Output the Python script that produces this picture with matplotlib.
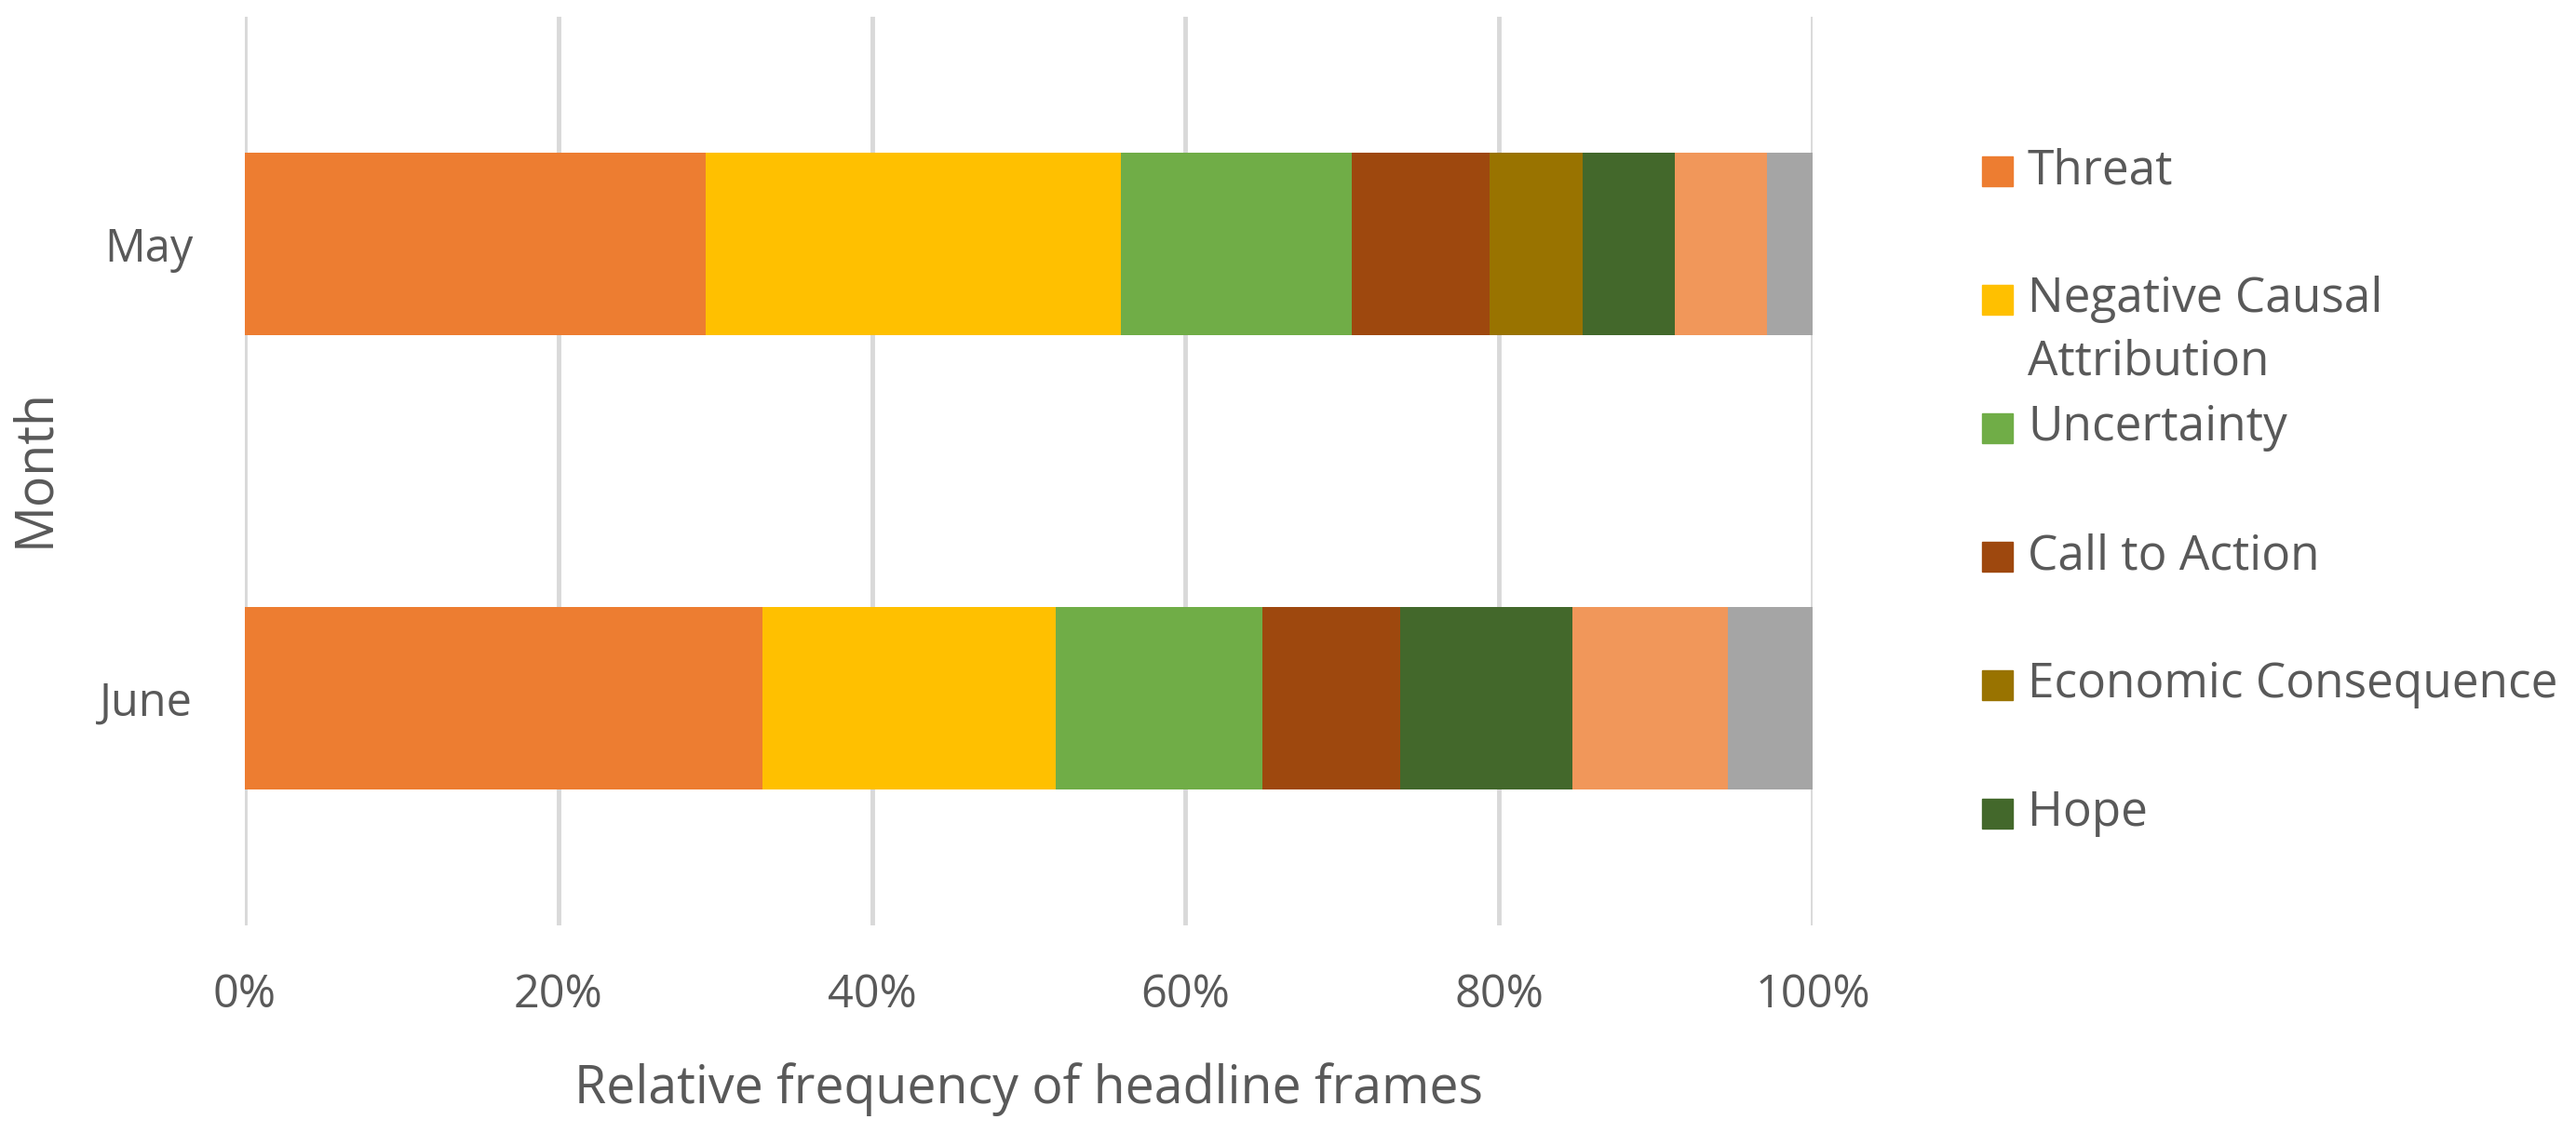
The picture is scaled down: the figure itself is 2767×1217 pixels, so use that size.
import matplotlib
matplotlib.use("Agg")
import matplotlib.pyplot as plt
from matplotlib.patches import Rectangle
from matplotlib.ticker import PercentFormatter

# dades: percentatge de titulars per marc i mes
months = ["June", "May"]
frames = ["Threat", "Negative Causal\nAttribution", "Uncertainty", "Call to Action",
          "Economic Consequence", "Hope", "Series 7", "Series 8"]
june = [33.0, 18.7, 13.2, 8.8, 0.0, 11.0, 9.9, 5.4]
may = [29.4, 26.5, 14.7, 8.8, 5.9, 5.9, 5.9, 2.9]
colors = ["#ED7D31", "#FFC000", "#70AD47", "#9E480E", "#997300", "#43682B", "#F1975A", "#A5A5A5"]
n_legend = 6  # la llegenda original queda tallada despres de "Hope"

plt.rcParams['font.family'] = ['Open Sans', 'DejaVu Sans']
text_color = "#595959"

fig = plt.figure(figsize=(27.67, 12.17), dpi=100)
ax = fig.add_axes([0.0950, 0.1832, 0.6087, 0.802])

left = [0.0, 0.0]
for i, name in enumerate(frames):
    vals = [june[i], may[i]]
    ax.barh(months, vals, left=left, height=0.4, color=colors[i], label=name, zorder=3)
    left = [left[0] + vals[0], left[1] + vals[1]]

ax.set_xlim(0, 100)
ax.set_ylim(-0.5, 1.5)
ax.set_xticks([0, 20, 40, 60, 80, 100])
ax.xaxis.set_major_formatter(PercentFormatter(decimals=0))
ax.grid(axis='x', color="#D9D9D9", linewidth=3.5, zorder=0)
ax.grid(axis='y', visible=False)
for s in ax.spines.values():
    s.set_visible(False)
ax.tick_params(axis='x', length=0, pad=36, labelsize=35, labelcolor=text_color)
ax.tick_params(axis='y', length=0, pad=40, labelsize=35, labelcolor=text_color)

ax.set_xlabel("Relative frequency of headline frames", fontsize=40, color=text_color, labelpad=34)
fig.text(0.0137, 0.587, "Month", rotation=90, fontsize=40, color=text_color, ha='center', va='center')

# llegenda feta a ma (el marcador alineat amb la primera linia)
y0 = 1 - 184 / 1217
step = 138 / 1217
for i in range(n_legend):
    y = y0 - i * step
    fig.patches.append(Rectangle((2129 / 2767, y - 16 / 1217), 33 / 2767, 32 / 1217,
                                 transform=fig.transFigure, color=colors[i]))
    fig.text(2178 / 2767, y + 26 / 1217, frames[i], fontsize=37, color=text_color,
             ha='left', va='top', linespacing=1.42)

fig.savefig("out.png", dpi=100)
